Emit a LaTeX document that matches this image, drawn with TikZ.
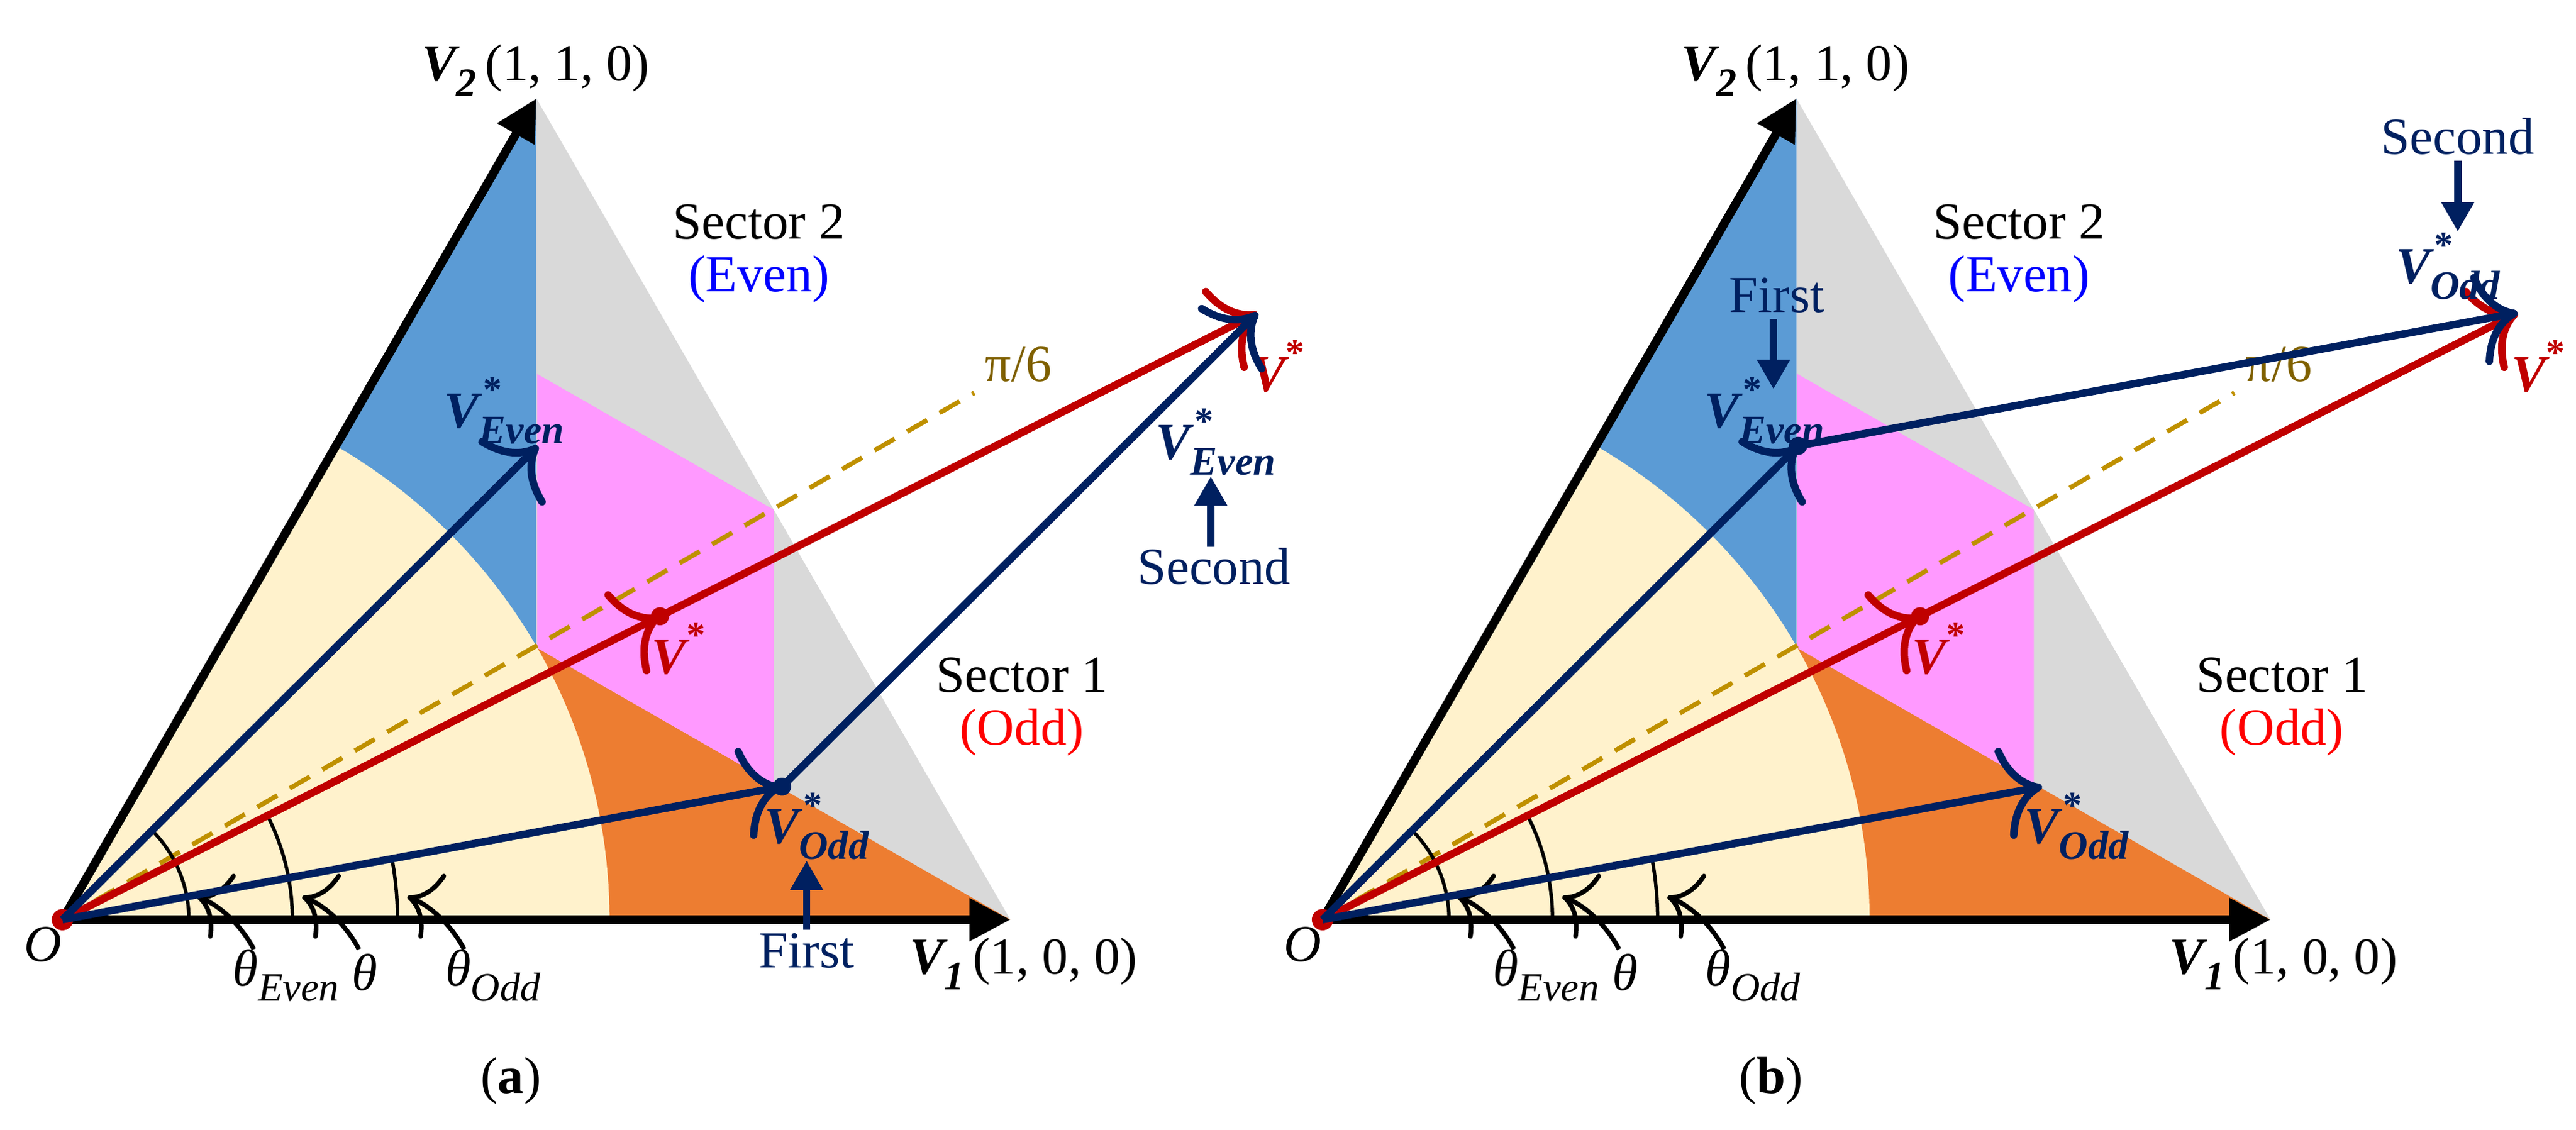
\documentclass[tikz,border=0pt]{standalone}
\usepackage{fontspec}
\setmainfont{Liberation Serif}
\usetikzlibrary{arrows.meta}
\definecolor{navy}{HTML}{002060}
\definecolor{dred}{HTML}{C00000}
\definecolor{regblue}{HTML}{5B9BD5}
\definecolor{regpink}{HTML}{FF99FF}
\definecolor{reggrey}{HTML}{D9D9D9}
\definecolor{regorange}{HTML}{ED7D31}
\definecolor{regyellow}{HTML}{FFF2CC}
\definecolor{dashgold}{HTML}{BF9000}
\definecolor{piolive}{HTML}{7F6000}
\newcommand\subV[1]{{\bfseries\itshape V}\rlap{\hspace{0.08em}\raisebox{0.5em}{\fontsize{13}{13}\selectfont\bfseries *}}\raisebox{-0.3em}{\fontsize{14}{14}\selectfont\bfseries\itshape #1}}
\newcommand\starV{{\bfseries\itshape V}\raisebox{0.5em}{\fontsize{13}{13}\selectfont\bfseries *}}
\newcommand\thsub[1]{\textit{θ}\raisebox{-0.3em}{\fontsize{14}{14}\selectfont\itshape #1}}
\newcommand\drawpanel{%
  \coordinate (O) at (38,560);
  \coordinate (V1) at (615,560);
  \coordinate (V2) at (326.5,60);
  \coordinate (M) at (326.5,560);
  \coordinate (C) at (327,394.6);
  \coordinate (PT) at (327,227.7);
  \coordinate (E1) at (471,310.4);
  \coordinate (E2) at (471,477.3);
  \coordinate (Ve) at (327.5,271.5);
  \coordinate (Vo) at (476,479);
  \coordinate (Vs) at (401.75,375.25);
  \coordinate (Vf) at (765.5,190.5);
  \coordinate (Pi) at (593,239.2);
  % regions
  \fill[reggrey] (V2) -- (V1) -- (M) -- cycle;
  \fill[regblue] (O) -- (V2) -- (M) -- cycle;
  \fill[regorange] (C) -- (V1) -- (O) -- cycle;
  \begin{scope}
    \clip (O) -- (V1) -- (V2) -- cycle;
    \fill[regyellow] (O) circle[radius=333];
  \end{scope}
  \fill[regpink] (PT) -- (E1) -- (E2) -- (C) -- cycle;
  % pi/6
  \draw[dashgold, line width=1.6pt, dash pattern=on 8pt off 5pt] (O) -- (Pi);
  \node[text=piolive] (pil) at (620,222) {π/6};
  % angle arcs
  \draw[thin arc] (O) ++(77,0) arc[start angle=0, end angle=-45, radius=77];
  \draw[thin arc] (O) ++(140,0) arc[start angle=0, end angle=-26.9, radius=140];
  \draw[thin arc] (O) ++(204,0) arc[start angle=0, end angle=-10.4, radius=204];
  % axes
  \draw[axis] (O) -- (V1);
  \draw[axis] (O) -- (V2);
  % theta labels and pointers
  \node (the) at (174,594) {\thsub{Even}};
  \node (th) at (222,592) {\textit{θ}};
  \node (tho) at (300,594) {\thsub{Odd}};
  \coordinate (pe0) at (154.5,578); \coordinate (pe1) at (120,546);
  \coordinate (pt0) at (218.5,578); \coordinate (pt1) at (184,546);
  \coordinate (po0) at (282.5,578); \coordinate (po1) at (248,546);
  \draw[pointer] (pe0) .. controls (146,562) and (133,551) .. (pe1);
  \draw[pointer] (pt0) .. controls (210,562) and (197,551) .. (pt1);
  \draw[pointer] (po0) .. controls (274,562) and (261,551) .. (po1);
  % red vector
  \draw[vec, dred] (O) -- (Vs);
  \draw[vec, dred] (Vs) -- (Vf);
  \fill[dred] (Vs) circle[radius=5.5];
  \fill[dred] (O) circle[radius=6.5];
  % labels
  \node (Ol) at (26,575) {\textit{O}};
  \node (V2l) at (326,43) {{\bfseries\itshape V}\raisebox{-0.3em}{\fontsize{14}{14}\selectfont\bfseries\itshape 2}\,(1, 1, 0)};
  \node (V1l) at (623,587) {{\bfseries\itshape V}\raisebox{-0.3em}{\fontsize{14}{14}\selectfont\bfseries\itshape 1}\,(1, 0, 0)};
  \node (s2) at (462,135) {Sector 2};
  \node[text=blue] (s2e) at (462,170) {(Even)};
  \node (s1) at (622,411) {Sector 1};
  \node[text=red] (s1o) at (622,446) {(Odd)};
  \node[text=navy] (Vel) at (307,250) {\subV{Even}};
  \node[text=navy] (Vol) at (497,503) {\subV{Odd}};
  \node[text=dred] (Vsl) at (413,395) {\starV};
  \node[text=dred] (Vfl) at (778,223) {\starV};
}
\begin{document}
\begin{tikzpicture}[x=0.02cm, y=-0.02cm,
  every node/.style={font=\fontsize{18}{21}\selectfont, inner sep=0pt},
  axis/.style={line width=3pt, black, -{Triangle[length=0.5cm,width=0.5cm]}},
  vec/.style={line width=2.6pt, -{To[length=14pt,width=32pt]}},
  pointer/.style={line width=1.6pt, black, -{To[length=10pt,width=24pt]}},
  thin arc/.style={line width=1.2pt, black},
  label arrow/.style={line width=2.6pt, navy, -{Triangle[length=0.36cm,width=0.38cm]}}]
\useasboundingbox (0,0) rectangle (1568,688);
% ---------------- panel (a)
\begin{scope}[name prefix=a-]
  \drawpanel
  \draw[vec, navy] (O) -- (Ve);
  \draw[vec, navy] (O) -- (Vo);
  \draw[vec, navy] (Vo) -- (Vf);
  \fill[navy] (Vo) circle[radius=5.5];
  \node[text=navy] (Vel2) at (740,269) {\subV{Even}};
  \node[text=navy] (sec) at (739,345) {Second};
  \coordinate (sa0) at (737,333); \coordinate (sa1) at (737,290);
  \draw[label arrow] (sa0) -- (sa1);
  \node[text=navy] (fir) at (491,579) {First};
  \coordinate (fa0) at (491,566); \coordinate (fa1) at (491,524);
  \draw[label arrow] (fa0) -- (fa1);
  \node (cap) at (311,658) {(\textbf{a})};
\end{scope}
% ---------------- panel (b)
\begin{scope}[shift={(767,0)}, name prefix=b-]
  \drawpanel
  \draw[vec, navy] (O) -- (Vo);
  \draw[vec, navy] (O) -- (Ve);
  \draw[vec, navy] (Ve) -- (Vf);
  \fill[navy] (Ve) circle[radius=5.5];
  \node[text=navy] (fir) at (314.5,180) {First};
  \coordinate (fa0) at (312.5,194); \coordinate (fa1) at (312.5,237);
  \draw[label arrow] (fa0) -- (fa1);
  \node[text=navy] (sec) at (729,83) {Second};
  \coordinate (sa0) at (729,98); \coordinate (sa1) at (729,141);
  \draw[label arrow] (sa0) -- (sa1);
  \node[text=navy] (Vol2) at (723,162) {\subV{Odd}};
  \node (cap) at (311,658) {(\textbf{b})};
\end{scope}
\end{tikzpicture}
\end{document}
